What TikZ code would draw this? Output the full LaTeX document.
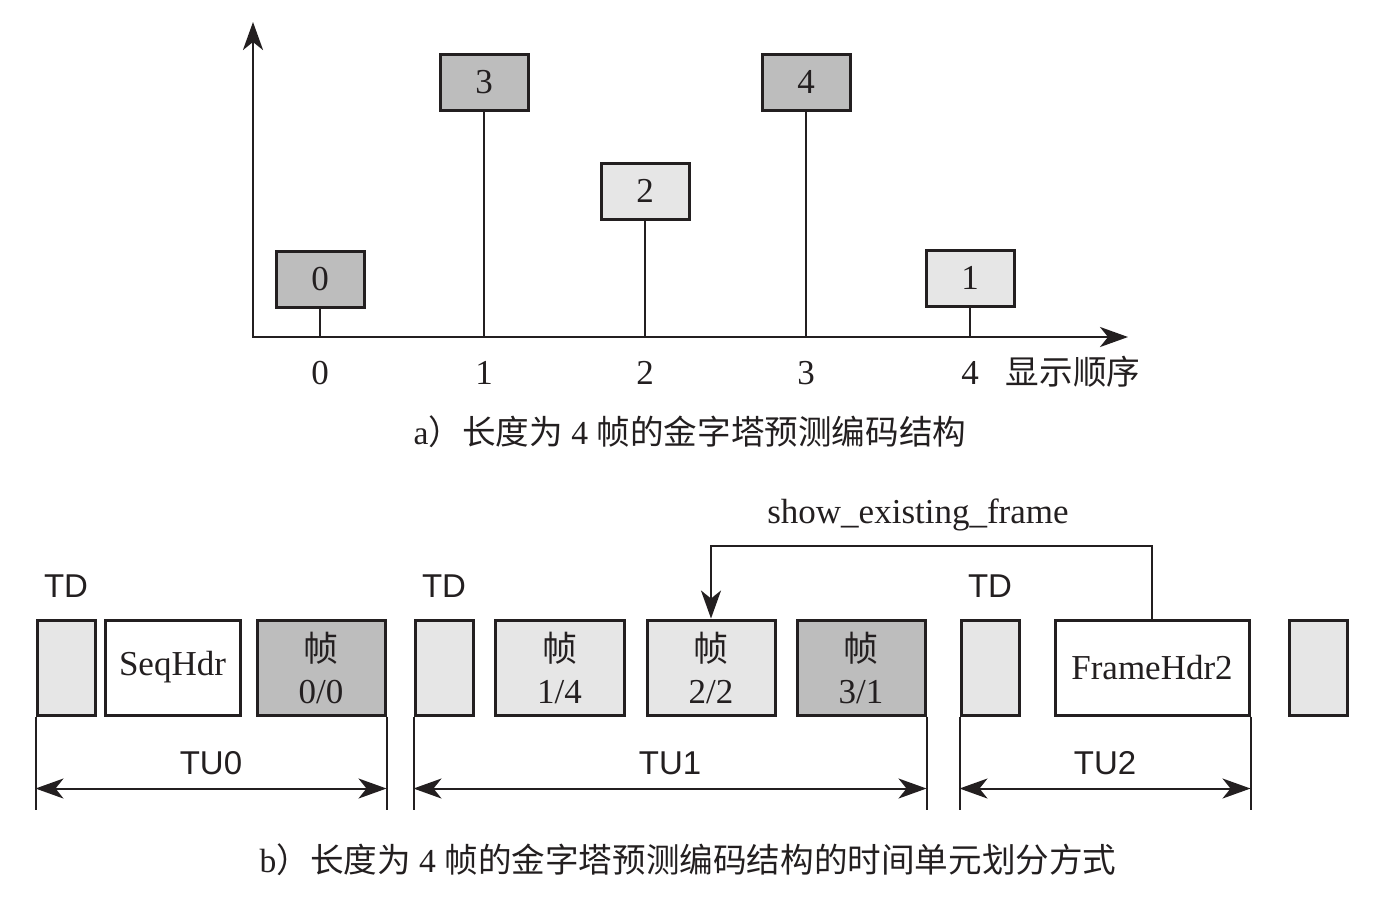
\documentclass[tikz,border=0pt]{standalone}
\usepackage{fontspec}
\setmainfont{Liberation Serif}
\setsansfont{Liberation Sans}
\newfontfamily\cjk{Noto Sans CJK SC}
\usetikzlibrary{arrows.meta,positioning}
\definecolor{ink}{HTML}{231F20}
\definecolor{darkfr}{HTML}{BDBDBD}
\definecolor{lightfr}{HTML}{E6E6E6}
\begin{document}
\begin{tikzpicture}[x=0.5pt,y=-0.5pt,color=ink,line width=1.2pt,
    >={Stealth[length=14pt,width=10pt,inset=4pt]},
    box/.style={draw,line width=1.5pt,inner sep=0pt,minimum width=44pt,minimum height=28pt,font=\fontsize{17.5}{21}\selectfont},
    unit/.style={draw,line width=1.5pt,inner sep=0pt,minimum height=47.5pt,align=center,font=\fontsize{17.5}{21}\selectfont},
    num/.style={font=\fontsize{17.5}{21}\selectfont},
    sans/.style={inner sep=0pt,font=\sffamily\fontsize{16.5}{20}\selectfont},
    captxt/.style={font=\fontsize{16.8}{20}\selectfont}]
  \useasboundingbox (0,0) rectangle (1374,896);

  % a) display order
  \coordinate (O) at (253,337);
  \coordinate (ytip) at (253,22);
  \coordinate (xtip) at (1128,337);
  \draw[line width=1.4pt,<->] (ytip) -- (O) -- (xtip);
  \foreach \i/\n/\x/\y/\c in {0/0/320/279.5/darkfr,1/3/484/82/darkfr,2/2/645/191/lightfr,3/4/806/82/darkfr,4/1/970/278/lightfr}{
    \node[box,fill=\c] (p\i) at (\x,\y) {\n};
    \coordinate (t\i) at (\x,337);
    \draw (p\i.south) -- (t\i);
    \node[num] (l\i) at (\x,373) {\i};
  }
  \node[captxt] (xlab) at (1073,372) {\cjk 显示顺序};
  \node[captxt] (capa) at (690,432) {a{\cjk ）长度为}~4~{\cjk 帧的金字塔预测编码结构}};

  % b) temporal units
  \node[unit,fill=lightfr,minimum width=29pt] (td0) at (66,667.5) {};
  \node[unit,fill=white,minimum width=67.5pt] (seq) at (172.5,667.5) {SeqHdr};
  \node[unit,fill=darkfr,minimum width=64pt] (f0) at (321,667.5) {{\cjk 帧}\\0/0};
  \node[unit,fill=lightfr,minimum width=29pt] (td1) at (444,667.5) {};
  \node[unit,fill=lightfr,minimum width=64.5pt] (f1) at (559.5,667.5) {{\cjk 帧}\\1/4};
  \node[unit,fill=lightfr,minimum width=64pt] (f2) at (711,667.5) {{\cjk 帧}\\2/2};
  \node[unit,fill=darkfr,minimum width=64pt] (f3) at (861,667.5) {{\cjk 帧}\\3/1};
  \node[unit,fill=lightfr,minimum width=29pt] (td2) at (990,667.5) {};
  \node[unit,fill=white,minimum width=97pt] (fh2) at (1152,667.5) {FrameHdr2};
  \node[unit,fill=lightfr,minimum width=29pt] (td3) at (1318,667.5) {};

  \foreach \i in {0,1,2}
    \node[sans,above=10pt of td\i] (tdl\i) {TD};

  \foreach \i/\a/\b in {0/td0/f0,1/td1/f3,2/td2/fh2}{
    \path (\a.south west) ++(0,93) coordinate (ul\i) ++(0,-21) coordinate (al\i);
    \path (\b.south east) ++(0,93) coordinate (ur\i) ++(0,-21) coordinate (ar\i);
    \draw[line width=1pt] (\a.south west) -- (ul\i);
    \draw[line width=1pt] (\b.south east) -- (ur\i);
    \draw[line width=1pt,<->] (al\i) -- (ar\i) node[sans,midway,above=6.5pt] (tu\i) {TU\i};
  }

  \coordinate (kink) at (1152,546);
  \draw[->] (fh2.north) -- (kink) -| (f2.north);
  \node[num] (sef) at (918,515) {show\_existing\_frame};

  \node[captxt] (capb) at (688,860) {b{\cjk ）长度为}~4~{\cjk 帧的金字塔预测编码结构的时间单元划分方式}};
\end{tikzpicture}
\end{document}
